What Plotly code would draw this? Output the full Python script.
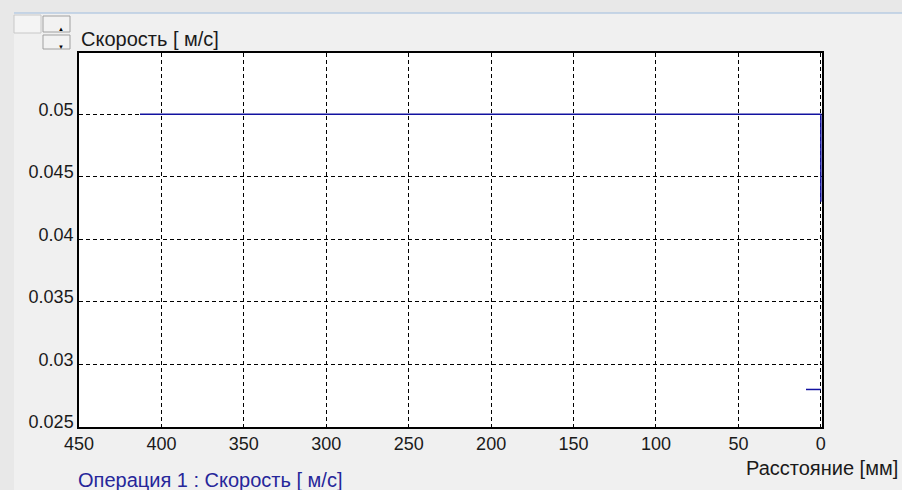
import plotly.graph_objects as go

# ---- data ----
distance_main = [413, 0, 0]
speed_main = [0.05, 0.05, 0.043]
distance_tail = [9, 0]
speed_tail = [0.028, 0.028]

x_ticks = [450, 400, 350, 300, 250, 200, 150, 100, 50, 0]
y_ticks = [0.025, 0.03, 0.035, 0.04, 0.045, 0.05]
y_tick_labels = ["0.025", "0.03", "0.035", "0.04", "0.045", "0.05"]

y_title = "Скорость [ м/с]"
x_title = "Расстояние [мм]"
legend_text = "Операция 1 : Скорость [ м/с]"

LINE = "#1212a0"
FONT = "Liberation Sans, Arial, sans-serif"

fig = go.Figure()
fig.add_trace(go.Scatter(x=distance_main, y=speed_main, mode="lines", cliponaxis=False,
                         line=dict(color=LINE, width=1.5), showlegend=False, hoverinfo="skip"))
fig.add_trace(go.Scatter(x=distance_tail, y=speed_tail, mode="lines", cliponaxis=False,
                         line=dict(color=LINE, width=1.5), showlegend=False, hoverinfo="skip"))

axis_common = dict(
    showline=True, linecolor="#000000", linewidth=1.5, mirror=True,
    showgrid=True, gridcolor="#000000", gridwidth=1, griddash="4px,3px",
    zeroline=False, ticks="", layer="below traces",
    tickfont=dict(family=FONT, size=18, color="#1a1a1a"),
)

W, H = 743, 374  # plot area size in px
L, T = 79, 53


def px(x):
    return (x - L) / W


def py(y):
    return (T + H - y) / H


fig.update_layout(
    width=902, height=490,
    margin=dict(l=79, r=80, t=53, b=63),
    paper_bgcolor="#f0f0f0",
    plot_bgcolor="#ffffff",
    font=dict(family=FONT, size=18, color="#1a1a1a"),
    xaxis=dict(axis_common, range=[450, -0.7], tickvals=x_ticks, ticklabelstandoff=0),
    yaxis=dict(axis_common, range=[0.025, 0.0549], tickvals=y_ticks, ticktext=y_tick_labels,
               ticklabelshift=-5, ticklabelstandoff=0),
    shapes=[
        # textured window edges
        dict(type="rect", xref="paper", yref="paper", x0=px(0), x1=px(902),
             y0=py(13), y1=py(0), fillcolor="#e8e8e8", line_width=0, layer="below"),
        dict(type="rect", xref="paper", yref="paper", x0=px(0), x1=px(14),
             y0=py(490), y1=py(0), fillcolor="#e8e8e8", line_width=0, layer="below"),
        dict(type="line", xref="paper", yref="paper", x0=px(14), x1=px(902),
             y0=py(13), y1=py(13), line=dict(color="#b9cde3", width=1.5)),
        # spinner input box
        dict(type="rect", xref="paper", yref="paper", x0=px(14), x1=px(41),
             y0=py(33), y1=py(15), fillcolor="#f4f4f4",
             line=dict(color="#c8c8c8", width=1)),
        # spinner buttons
        dict(type="rect", xref="paper", yref="paper", x0=px(43), x1=px(70),
             y0=py(32), y1=py(16), fillcolor="#f2f2f2",
             line=dict(color="#a0a0a0", width=1)),
        dict(type="rect", xref="paper", yref="paper", x0=px(43), x1=px(70),
             y0=py(49), y1=py(35), fillcolor="#f2f2f2",
             line=dict(color="#a0a0a0", width=1)),
    ],
    annotations=[
        dict(text=y_title, xref="paper", yref="paper", x=0, y=1, xanchor="left", yanchor="bottom",
             xshift=0, yshift=1, showarrow=False, font=dict(family=FONT, size=20, color="#1a1a1a")),
        dict(text=x_title, xref="paper", yref="paper", x=1, y=0, xanchor="right", yanchor="middle",
             xshift=78, yshift=-41, showarrow=False, font=dict(family=FONT, size=20, color="#1a1a1a")),
        dict(text=legend_text, xref="paper", yref="paper", x=0, y=0, xanchor="left", yanchor="middle",
             xshift=-3, yshift=-53, showarrow=False, font=dict(family=FONT, size=20, color="#26269a")),
        dict(text="▲", xref="paper", yref="paper", x=px(56), y=py(24), showarrow=False,
             font=dict(size=6, color="#000000")),
        dict(text="▼", xref="paper", yref="paper", x=px(56), y=py(42), showarrow=False,
             font=dict(size=6, color="#000000")),
    ],
)

fig.write_html(
    "out.html",
    config={"displayModeBar": False},
    post_script="document.body.style.margin='0';document.body.style.background='#f0f0f0';",
)
